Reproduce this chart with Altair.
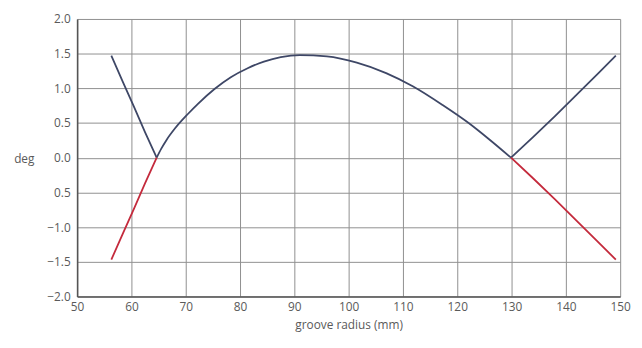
import altair as alt
import pandas as pd

# groove radius (mm) and tracking error magnitude (deg) - dark curve
# left branch
bl_r = [56.3, 58.5, 60.5, 62.5, 64.65]
bl_v = [1.47, 1.08, 0.73, 0.37, 0.0]
# arc between the two null points
arc_r = [64.65, 65.5, 66.5, 68.0, 70.4, 72.3, 75.3, 78.3, 81.4, 84.4, 87.5, 91.0,
         96.0, 101.5, 106.9, 111.8, 117.3, 122.1, 125.8, 129.9]
arc_v = [0.0, 0.13, 0.26, 0.42, 0.63, 0.78, 0.99, 1.16, 1.29, 1.385, 1.45, 1.48,
         1.46, 1.37, 1.22, 1.03, 0.76, 0.50, 0.27, 0.0]
# right branch
br_r = [129.9, 134.0, 138.0, 142.0, 146.0, 149.2]
br_v = [0.0, 0.30, 0.60, 0.91, 1.22, 1.47]

# negative (signed) parts - red curve
red_left_r = [56.3, 58.5, 60.5, 62.5, 64.65]
red_left_v = [-1.47, -1.08, -0.73, -0.37, 0.0]
red_right_r = [129.9, 134.0, 138.0, 142.0, 146.0, 149.2]
red_right_v = [0.0, -0.30, -0.60, -0.91, -1.22, -1.47]

x_ticks = [50, 60, 70, 80, 90, 100, 110, 120, 130, 140, 150]
y_ticks = [-2.0, -1.5, -1.0, -0.5, 0.0, 0.5, 1.0, 1.5, 2.0]

branch_df = pd.DataFrame({
    "r": bl_r + br_r,
    "deg": bl_v + br_v,
    "seg": ["left"] * len(bl_r) + ["right"] * len(br_r),
})
arc_df = pd.DataFrame({"r": arc_r, "deg": arc_v})
red_df = pd.DataFrame({
    "r": red_left_r + red_right_r,
    "deg": red_left_v + red_right_v,
    "seg": ["left"] * len(red_left_r) + ["right"] * len(red_right_r),
})

FONT = "Open Sans"
TXT = "#5a5a5a"

x_enc = alt.X("r:Q", scale=alt.Scale(domain=[50, 150], nice=False, zero=False),
              axis=alt.Axis(values=x_ticks, grid=True, gridColor="#8f8f8f", gridWidth=1,
                            ticks=False, domainColor="#555555", domainWidth=1.6,
                            labelColor=TXT, labelFont=FONT, labelFontSize=12,
                            labelFlush=False, labelPadding=5, labelOverlap=False,
                            title="groove radius (mm)", titleFont=FONT, titleFontSize=12,
                            titleFontWeight="normal", titleColor=TXT, titlePadding=7))
y_enc = alt.Y("deg:Q", scale=alt.Scale(domain=[-2, 2], nice=False),
              axis=alt.Axis(values=y_ticks, grid=True, gridColor="#8f8f8f", gridWidth=1,
                            ticks=False, domainColor="#555555", domainWidth=1.6,
                            labelColor=TXT, labelFont=FONT, labelFontSize=12,
                            labelFlush=False, labelPadding=7, labelOverlap=False,
                            labelExpr="datum.value == -0.5 ? '0.5' : format(datum.value, '.1f')",
                            title="deg", titleFont=FONT, titleFontSize=12,
                            titleFontWeight="normal", titleColor=TXT, titleAngle=0,
                            titleAlign="center", titleBaseline="middle",
                            titleX=-54, titleY=141))

BLUE = "#3e4766"
RED = "#c42a3c"

branches = alt.Chart(branch_df).mark_line(color=BLUE, strokeWidth=1.8).encode(
    x=x_enc, y=y_enc, detail="seg:N")
arc = alt.Chart(arc_df).mark_line(color=BLUE, strokeWidth=1.8, interpolate="monotone").encode(
    x=x_enc, y=y_enc)
red = alt.Chart(red_df).mark_line(color=RED, strokeWidth=1.8).encode(
    x=x_enc, y=y_enc, detail="seg:N")

chart = alt.layer(branches, arc, red).properties(
    width=550, height=281,
    autosize=alt.AutoSizeParams(type="none"),
    padding={"left": 70, "top": 9, "right": 14, "bottom": 40},
    background="white",
).configure_view(stroke=None)

chart.save("out.html", embed_options={"renderer": "svg", "actions": False})
